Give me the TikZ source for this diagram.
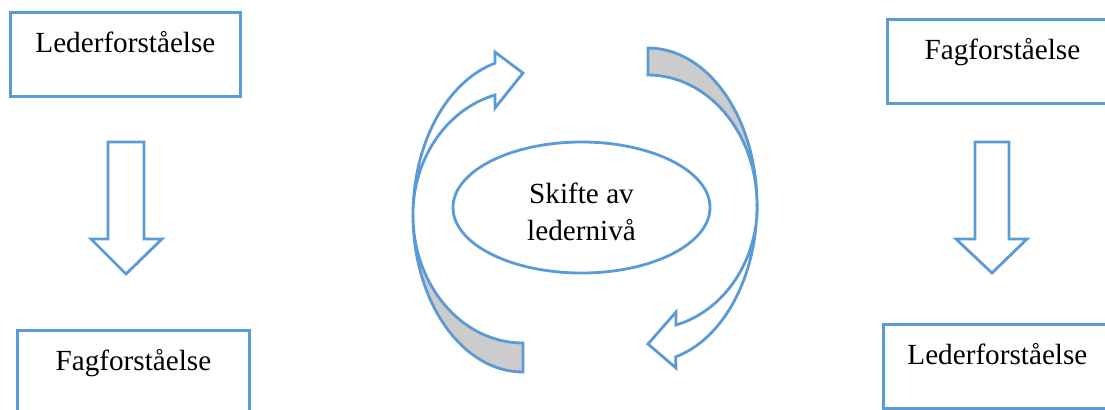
\documentclass[tikz,border=0pt]{standalone}
\usepackage{fontspec}
\setmainfont{Liberation Serif}
\usetikzlibrary{shapes.geometric}
\definecolor{wordblue}{HTML}{5B9BD5}

\begin{document}
\begin{tikzpicture}[
    x=0.5pt, y=-0.5pt,
    line width=1.4pt,
    txt/.style={font=\fontsize{14.6}{18.5}\selectfont},
    box/.style={draw=wordblue, rectangle, anchor=north west, inner sep=0pt, minimum width=115pt, text height=20pt, text depth=22pt, txt},
    blk/.style={draw=wordblue, fill=white, line join=miter},
    back/.style={draw=wordblue, fill=gray!40, line join=miter}
]
    \useasboundingbox (0,0) rectangle (1105,409);

    % Left column
    \node[box] (leder1) at (9,11) {Lederforståelse};
    \node[box, minimum width=116pt] (fag1) at (16,329) {Fagforståelse};
    \draw[blk] (108,142) -- (144,142) -- (144,239) -- (162,239) -- (126,274)
        -- (91,239) -- (108,239) -- cycle;

    % Right column
    \node[box] (fag2) at (886,18) {Fagforståelse};
    \node[box, minimum width=114pt] (leder2) at (882,323) {Lederforståelse};
    \draw[blk] (975,142) -- (1009,142) -- (1009,239) -- (1027,239) -- (992,273)
        -- (956,239) -- (975,239) -- cycle;

    % Centre
    \node[draw=wordblue, ellipse, minimum width=128.5pt, minimum height=65.5pt, inner sep=0pt] (skifte) at (581.5,207.5) {};
    \node[txt, align=center, inner sep=0pt] (skiftetxt) at ([yshift=-2pt]skifte.center) {Skifte av\\ledernivå};

    % Left curved arrow (upwards)
    \draw[back] (523,372) arc[start angle=90, end angle=180, x radius=110, y radius=157]
        arc[start angle=180, end angle=90, x radius=110, y radius=128] -- cycle;
    \draw[blk] (413,215) arc[start angle=180, end angle=255.3, x radius=110, y radius=157]
        -- (495,52) -- (523,73) -- (495,108) -- (495,95)
        arc[start angle=255.3, end angle=180, x radius=110, y radius=124] -- cycle;

    % Right curved arrow (downwards)
    \draw[back] (648,48) arc[start angle=270, end angle=360, x radius=109, y radius=157]
        arc[start angle=360, end angle=270, x radius=109, y radius=130] -- cycle;
    \draw[blk] (757,205) arc[start angle=0, end angle=75.3, x radius=109, y radius=157]
        -- (676,368) -- (648,344) -- (676,312) -- (676,325)
        arc[start angle=75.3, end angle=0, x radius=109, y radius=124] -- cycle;

\end{tikzpicture}
\end{document}
